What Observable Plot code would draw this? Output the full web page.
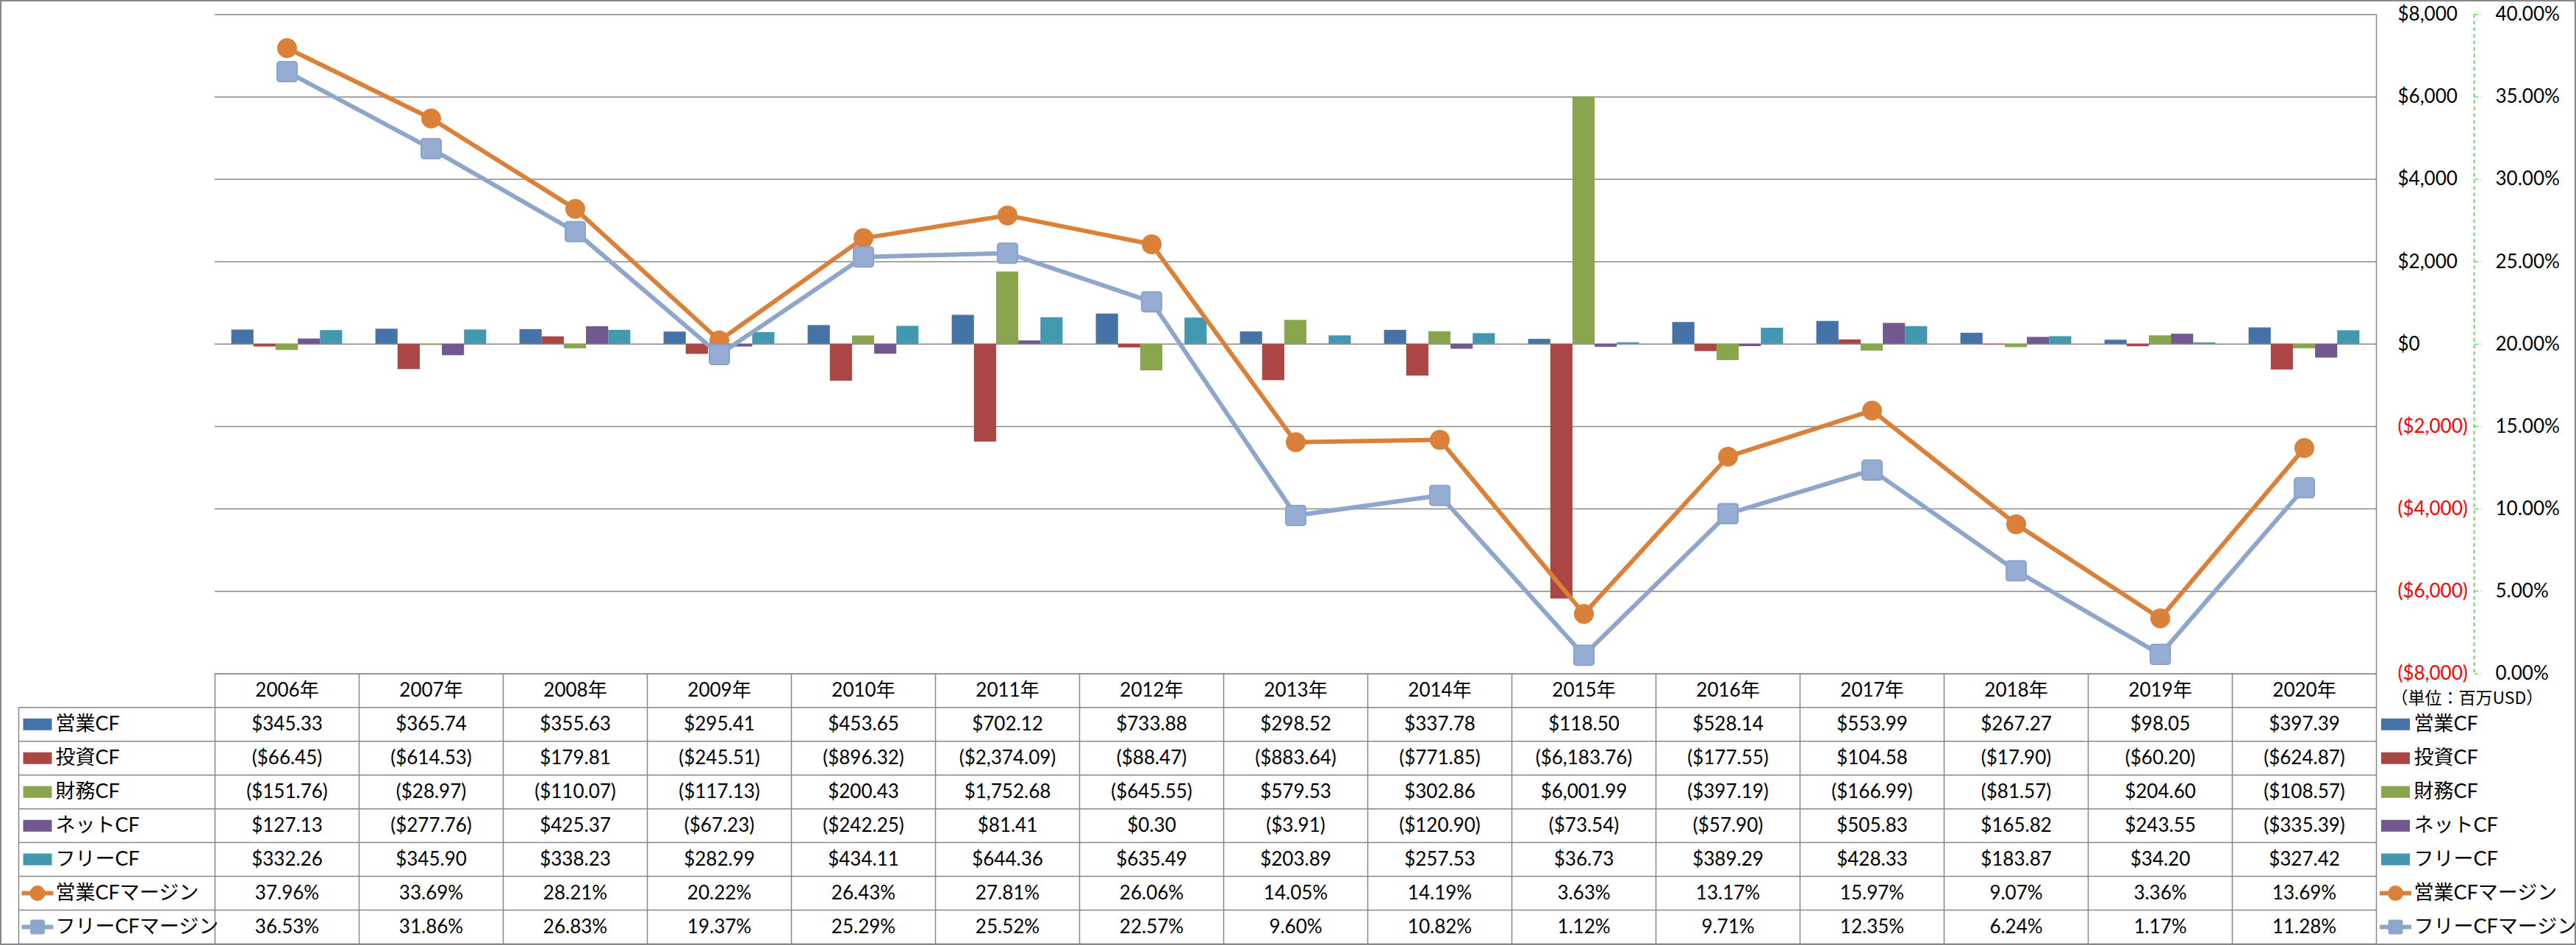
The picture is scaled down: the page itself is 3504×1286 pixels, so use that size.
<!DOCTYPE html>
<html><head><meta charset="utf-8">
<script src="https://cdn.jsdelivr.net/npm/d3@7"></script>
<script src="https://cdn.jsdelivr.net/npm/@observablehq/plot@0.6"></script>
<style>
body{margin:0;background:#fff;}
#wrap{position:relative;width:3504px;height:1286px;overflow:hidden;background:#fff;}
#wrap svg{position:absolute;left:0;top:0;}
#border{position:absolute;left:0;top:0;width:3504px;height:1286px;box-sizing:border-box;border:2px solid #878787;pointer-events:none;z-index:5;}
</style></head><body>
<div id="wrap"><div id="border"></div></div>
<script>
// ---------- data ----------
const years = [2006,2007,2008,2009,2010,2011,2012,2013,2014,2015,2016,2017,2018,2019,2020];
const seriesNames = ["営業CF","投資CF","財務CF","ネットCF","フリーCF"];
const opCF   = [345.33,365.74,355.63,295.41,453.65,702.12,733.88,298.52,337.78,118.50,528.14,553.99,267.27,98.05,397.39];
const invCF  = [-66.45,-614.53,179.81,-245.51,-896.32,-2374.09,-88.47,-883.64,-771.85,-6183.76,-177.55,104.58,-17.90,-60.20,-624.87];
const finCF  = [-151.76,-28.97,-110.07,-117.13,200.43,1752.68,-645.55,579.53,302.86,6001.99,-397.19,-166.99,-81.57,204.60,-108.57];
const netCF  = [127.13,-277.76,425.37,-67.23,-242.25,81.41,0.30,-3.91,-120.90,-73.54,-57.90,505.83,165.82,243.55,-335.39];
const freeCF = [332.26,345.90,338.23,282.99,434.11,644.36,635.49,203.89,257.53,36.73,389.29,428.33,183.87,34.20,327.42];
const marginNames = ["営業CFマージン","フリーCFマージン"];
const opMargin   = [37.96,33.69,28.21,20.22,26.43,27.81,26.06,14.05,14.19,3.63,13.17,15.97,9.07,3.36,13.69];
const freeMargin = [36.53,31.86,26.83,19.37,25.29,25.52,22.57,9.60,10.82,1.12,9.71,12.35,6.24,1.17,11.28];
const dollarTicks = [-8000,-6000,-4000,-2000,0,2000,4000,6000,8000];
const pctTicks = [0,5,10,15,20,25,30,35,40];
const unitLabel = "（単位：百万USD）";

// ---------- styles ----------
const barColors = ["#4572A7","#AA4643","#89A54E","#71588F","#4198AF"];
const lineColors = ["#DB8038","#8EA6CC"];
const gridColor = "#878787";
const font = "Lato, 'Noto Sans CJK JP', sans-serif";
const W = 3504, H = 1286;
const plotLeft = 292, plotRight = 3232, plotTop = 19.3, plotBottom = 916.3, tableBottom = 1284;

// ---------- helpers ----------
const cfSeries = [opCF, invCF, finCF, netCF, freeCF];
const marginSeries = [opMargin, freeMargin];
const num = d3.format(",.2f");
const fmtMoney = v => v < 0 ? `($${num(-v)})` : `$${num(v)}`;
const fmtAxisMoney = v => v < 0 ? `($${d3.format(",")(-v)})` : `$${d3.format(",")(v)}`;
const pctToY = p => (p - 20) * 400;         // secondary axis mapping (0..40% -> -8000..8000)
const yToPct = v => v / 400 + 20;
const nBars = seriesNames.length, slot = 1 / (nBars + 1.5); // Excel gap width 150%

const bars = cfSeries.flatMap((arr, si) => arr.map((v, i) => ({year: years[i], si, value: v})));
const lines = marginSeries.map((arr, mi) => arr.map((v, i) => ({year: years[i], mi, y: pctToY(v)})));

function roundRect(ctx, x, y, w, h, r) {
  ctx.moveTo(x + r, y); ctx.lineTo(x + w - r, y); ctx.arcTo(x + w, y, x + w, y + r, r);
  ctx.lineTo(x + w, y + h - r); ctx.arcTo(x + w, y + h, x + w - r, y + h, r);
  ctx.lineTo(x + r, y + h); ctx.arcTo(x, y + h, x, y + h - r, r);
  ctx.lineTo(x, y + r); ctx.arcTo(x, y, x + r, y, r); ctx.closePath();
}
const markerSquare = {draw(ctx) { roundRect(ctx, -13.5, -13.5, 27, 27, 3.5); }};
const swatchRect = {draw(ctx) { ctx.rect(-19.5, -8, 39, 16); }};
const swatchCircle = {draw(ctx) { ctx.rect(-21.5, -3, 43, 6); ctx.moveTo(10.5, 0); ctx.arc(0, 0, 10.5, 0, 2 * Math.PI); }};
const swatchSquare = {draw(ctx) { ctx.rect(-21.5, -3, 43, 6); roundRect(ctx, -10, -10, 20, 20, 3); }};

// ---------- chart ----------
const chartMarks = [
  Plot.ruleY(dollarTicks, {stroke: gridColor, strokeWidth: 1.5}),
  Plot.ruleX([years[years.length - 1] + 0.5], {stroke: gridColor, strokeWidth: 1.5}),
  Plot.ruleX([years[years.length - 1] + 0.5], {dx: 133, stroke: "#22dd22", strokeWidth: 1.5, strokeDasharray: "5,4"}),
];
seriesNames.forEach((name, si) => {
  chartMarks.push(Plot.rectY(bars.filter(d => d.si === si), {
    x1: d => d.year + (d.si - nBars / 2) * slot,
    x2: d => d.year + (d.si + 1 - nBars / 2) * slot,
    y: "value", fill: barColors[si]
  }));
});
lines.forEach((pts, mi) => {
  chartMarks.push(Plot.line(pts, {x: "year", y: "y", stroke: lineColors[mi], strokeWidth: 6}));
  if (mi === 0) chartMarks.push(Plot.dot(pts, {x: "year", y: "y", r: 13.5, fill: lineColors[0]}));
  else chartMarks.push(Plot.dot(pts, {x: "year", y: "y", symbol: markerSquare, fill: "#96ACD2", stroke: "#8BA2C9", strokeWidth: 2}));
});
chartMarks.push(
  Plot.axisY(dollarTicks.filter(d => d >= 0), {anchor: "right", tickSize: 0, tickPadding: 29, fontSize: 26, fill: "black", tickFormat: fmtAxisMoney, label: null}),
  Plot.axisY(dollarTicks.filter(d => d < 0), {anchor: "right", tickSize: 0, tickPadding: 29, fontSize: 26, fill: "#ff0000", tickFormat: fmtAxisMoney, label: null}),
  Plot.axisY(pctTicks.map(pctToY), {anchor: "right", dx: 133, tickSize: 10, tickPadding: 19, stroke: "#22dd22", strokeDasharray: "5,4", fontSize: 26, fill: "black", tickFormat: v => yToPct(v).toFixed(2) + "%", label: null})
);

const chart = Plot.plot({
  width: W, height: H,
  marginLeft: plotLeft, marginRight: W - plotRight, marginTop: plotTop, marginBottom: H - plotBottom,
  x: {type: "linear", domain: [years[0] - 0.5, years[years.length - 1] + 0.5], axis: null},
  y: {domain: [dollarTicks[0], dollarTicks[dollarTicks.length - 1]], axis: null},
  style: {fontFamily: font, background: "transparent", overflow: "visible", color: "black"},
  marks: chartMarks
});

// ---------- data table ----------
const rowValues = [...cfSeries.map(arr => arr.map(fmtMoney)), ...marginSeries.map(arr => arr.map(v => v.toFixed(2) + "%"))];
const rowLabels = [...seriesNames, ...marginNames];
const cells = [
  ...years.map(y => ({year: y, row: 0, text: `${y}年`})),
  ...rowValues.flatMap((vals, r) => vals.map((t, i) => ({year: years[i], row: r + 1, text: t})))
];
const legendItems = rowLabels.map((label, i) => ({
  label, row: i + 1,
  color: i < nBars ? barColors[i] : lineColors[i - nBars],
  symbol: i < nBars ? swatchRect : (i === nBars ? swatchCircle : swatchSquare)
}));
const colBounds = [years[0] - 0.5, ...years.map(y => y + 0.5)];
const rowBounds = d3.range(0, rowLabels.length + 2).map(r => r - 0.5);
const labelColWidth = 267;

const tableMarks = [
  Plot.ruleY([rowBounds[0]], {stroke: gridColor, strokeWidth: 1.5}),
  Plot.ruleY(rowBounds.slice(1), {stroke: gridColor, strokeWidth: 1.5, insetLeft: -labelColWidth}),
  Plot.ruleX(colBounds, {stroke: gridColor, strokeWidth: 1.5}),
  Plot.ruleX([colBounds[0]], {y1: rowBounds[1], y2: rowBounds[rowBounds.length - 1], dx: -labelColWidth, stroke: gridColor, strokeWidth: 1.5}),
  Plot.text(cells, {x: "year", y: "row", text: "text", fontSize: 26, fill: "black"}),
  Plot.text(legendItems, {y: "row", text: "label", frameAnchor: "left", dx: -217, textAnchor: "start", fontSize: 27, fill: "black"}),
  Plot.text(legendItems, {y: "row", text: "label", frameAnchor: "right", dx: 51, textAnchor: "start", fontSize: 27, fill: "black"}),
  Plot.text([unitLabel], {y: 0, frameAnchor: "right", dx: 20, dy: 11, textAnchor: "start", fontSize: 23, fontFamily: "'Noto Sans CJK JP', sans-serif", fill: "black"})
];
legendItems.forEach(it => {
  tableMarks.push(Plot.dot([it], {y: "row", frameAnchor: "left", dx: -241.5, symbol: it.symbol, fill: it.color}));
  tableMarks.push(Plot.dot([it], {y: "row", frameAnchor: "right", dx: 26, symbol: it.symbol, fill: it.color}));
});

const table = Plot.plot({
  width: W, height: H,
  marginLeft: plotLeft, marginRight: W - plotRight, marginTop: plotBottom, marginBottom: H - tableBottom,
  x: {type: "linear", domain: [years[0] - 0.5, years[years.length - 1] + 0.5], axis: null},
  y: {type: "linear", domain: [rowBounds[0], rowBounds[rowBounds.length - 1]], reverse: true, axis: null},
  style: {fontFamily: font, background: "transparent", overflow: "visible", color: "black"},
  marks: tableMarks
});

const wrap = document.getElementById("wrap");
wrap.insertBefore(table, wrap.firstChild);
wrap.insertBefore(chart, table.nextSibling);
</script>
</body></html>
